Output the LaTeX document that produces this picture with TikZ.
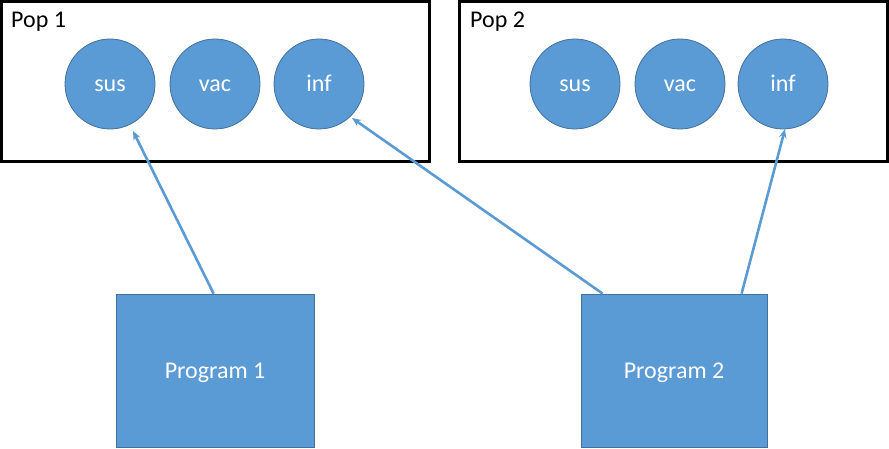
\documentclass[tikz,border=0pt]{standalone}
\usepackage{fontspec}
\setmainfont{Carlito}
\usetikzlibrary{arrows.meta,calc}
\definecolor{bluefill}{HTML}{5B9BD5}
\definecolor{blueline}{HTML}{41719C}
\begin{document}
\begin{tikzpicture}[x=1pt,y=1pt,
  popbox/.style={draw=black,line width=2.3pt,fill=white,inner sep=0pt},
  poplabel/.style={anchor=base west,inner sep=0pt,text=black,font=\fontsize{24}{28}\selectfont},
  state/.style={circle,draw=blueline,line width=0.8pt,fill=bluefill,minimum size=90pt,inner sep=0pt,text=white,text height=15pt,text depth=0pt,font=\fontsize{24}{28}\selectfont},
  prog/.style={rectangle,draw=blueline,line width=0.8pt,fill=bluefill,inner sep=0pt,text=white,text height=15pt,text depth=0pt,font=\fontsize{24}{28}\selectfont},
  conn/.style={draw=bluefill,line width=2.6pt,-{Stealth[length=9pt,width=7.5pt]}}]
\useasboundingbox (0,0) rectangle (889,448);
\fill[white] (0,0) rectangle (889,448);
% population boxes
\node[popbox,minimum width=428pt,minimum height=160pt] (pop1) at (215.5,366.5) {};
\node[popbox,minimum width=428pt,minimum height=160pt] (pop2) at (673.5,366.5) {};
\node[poplabel] (pop1label) at (11,420) {Pop 1};
\node[poplabel] (pop2label) at (470,420) {Pop 2};
% states
\node[state] (sus1) at (110,364) {sus};
\node[state] (vac1) at (215,364) {vac};
\node[state] (inf1) at (319,364) {inf};
\node[state] (sus2) at (575,364) {sus};
\node[state] (vac2) at (680,364) {vac};
\node[state] (inf2) at (783,364) {inf};
% programs
\node[prog,minimum width=198pt,minimum height=153pt] (p1) at (215,77.5) {Program 1};
\node[prog,minimum width=186pt,minimum height=153pt] (p2) at (674,77.5) {Program 2};
% connectors
\coordinate (t1) at ($(sus1.center)+(23,-47)$);
\coordinate (t2) at ($(inf1.center)+(33,-34)$);
\coordinate (t3) at ($(inf2.center)+(2,-45)$);
\draw[conn] ($(p1.north west)+(98,0)$) -- (t1);
\draw[conn] ($(p2.north west)+(22,0)$) -- (t2);
\draw[conn] ($(p2.north west)+(161,0)$) -- (t3);
\end{tikzpicture}
\end{document}
